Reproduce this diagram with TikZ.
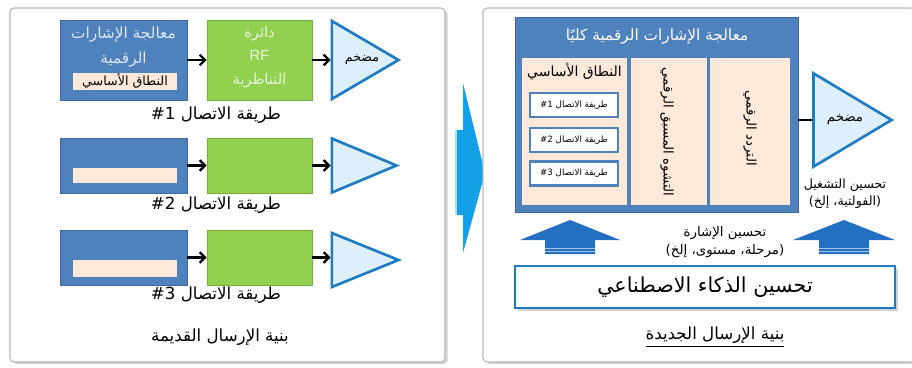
\documentclass[tikz,border=0pt]{standalone}
\usepackage{fontspec}
\setmainfont{Liberation Sans}
\newfontfamily\arabicfont[Script=Arabic]{DejaVu Sans}
\TeXXeTstate=1
\usetikzlibrary{arrows.meta,shapes.geometric,shadows}
\definecolor{dspblue}{HTML}{4F81BD}
\definecolor{dspedge}{HTML}{3E6A9E}
\definecolor{dsptext}{HTML}{DCE6F2}
\definecolor{rfgreen}{HTML}{92D050}
\definecolor{rfedge}{HTML}{78AE3C}
\definecolor{rftext}{HTML}{EAF4DC}
\definecolor{peach}{HTML}{FDE9D9}
\definecolor{ampfill}{HTML}{DCEFFA}
\definecolor{ampedge}{HTML}{1F7BC2}
\definecolor{midblue}{HTML}{14A0E6}
\definecolor{upblue}{HTML}{2370C2}
\newcommand{\artxt}[1]{{\arabicfont\beginR #1\endR}}

\begin{document}
\begin{tikzpicture}[x=0.75pt,y=-0.75pt,
  panel/.style={draw=black!28, line width=0.8pt, rounded corners=3pt, fill=white,
    drop shadow={shadow xshift=2pt, shadow yshift=-1.5pt, opacity=0.35}},
  dspbox/.style={draw=dspedge, fill=dspblue, line width=0.6pt, inner sep=0pt, minimum width=95.25pt},
  rfbox/.style={draw=rfedge, fill=rfgreen, line width=0.6pt, inner sep=0pt, minimum width=78.75pt},
  bandbar/.style={fill=peach, inner sep=0pt, minimum width=78pt},
  amp/.style={isosceles triangle, isosceles triangle stretches, draw=ampedge, fill=ampfill,
    line width=2pt, inner sep=0pt, anchor=apex},
  flow/.style={-{Straight Barb[length=4pt,width=8pt]}, line width=1.7pt},
  lbl/.style={font=\fontsize{12.5}{14}\selectfont, inner sep=1pt},
  column/.style={fill=peach, inner sep=0pt, minimum height=110.25pt},
  pathbox/.style={draw=dspblue, fill=white, line width=2pt, inner sep=0pt,
    minimum width=66pt, minimum height=18pt, font=\fontsize{6.5}{8}\selectfont,
    drop shadow={shadow xshift=1pt, shadow yshift=-1pt, opacity=0.3}},
  upblock/.style={fill=upblue},
]
%%%%% START %%%%%
\useasboundingbox (0,0) rectangle (912,367);

% old architecture
\draw[panel] (10,8) rectangle (445,362);

\node[dspbox, minimum height=60pt] (dsp1) at (123.5,60) {};
\node[text=dsptext, align=center, font=\fontsize{11.5}{18.5}\selectfont] (dsptxt1) at (123.5,47)
  {\artxt{معالجة الإشارات}\\\artxt{الرقمية}};
\node[bandbar, minimum height=12.75pt, font=\fontsize{9.5}{10}\selectfont] (band1) at (125,81.5)
  {\artxt{النطاق الأساسي}};
\node[rfbox, minimum height=60pt] (rf1) at (259.5,60) {};
\node[text=rftext, align=center, font=\fontsize{11}{17.5}\selectfont] (rftxt1) at (259.5,57)
  {\artxt{دائرة}\\RF\\\artxt{التناظرية}};
\node[amp, minimum height=50pt, minimum width=58.5pt] (amp1) at (402,60) {};
\node[font=\fontsize{9.5}{11}\selectfont, inner sep=0pt] (amptxt1) at (362,60) {\artxt{مضخم}};
\draw[flow] (dsp1) -- (rf1);
\draw[flow] (rf1) -- (amp1);
\node[lbl] (way1) at (216,115) {\artxt{طريقة الاتصال \beginL\#1\endL}};

\node[dspbox, minimum height=41.25pt] (dsp2) at (123.5,165.5) {};
\node[bandbar, minimum height=11.25pt] (band2) at (125,175.5) {};
\node[rfbox, minimum height=41.25pt] (rf2) at (259.5,165.5) {};
\node[amp, minimum height=48.5pt, minimum width=40.5pt] (amp2) at (400,165.5) {};
\draw[flow] (dsp2) -- (rf2);
\draw[flow] (rf2) -- (amp2);
\node[lbl] (way2) at (216,205) {\artxt{طريقة الاتصال \beginL\#2\endL}};

\node[dspbox, minimum height=41.25pt] (dsp3) at (123.5,257.5) {};
\node[bandbar, minimum height=12.75pt] (band3) at (125,268.5) {};
\node[rfbox, minimum height=41.25pt] (rf3) at (259.5,257.5) {};
\node[amp, minimum height=50pt, minimum width=40.5pt] (amp3) at (402,260) {};
\draw[flow] (dsp3) -- (rf3);
\draw[flow] (rf3.east) -- (amp3.lower side |- rf3.east);
\node[lbl] (way3) at (216,295) {\artxt{طريقة الاتصال \beginL\#3\endL}};

\node[lbl] (oldfoot) at (220,337) {\artxt{بنية الإرسال القديمة}};

% transition arrow
\fill[midblue] (457,130) -- (463,130) -- (463,83) -- (485,173) -- (463,253) -- (463,215) -- (457,215) -- cycle;
\draw[midblue!35, line width=0.8pt] (456,130) -- (456,215);

% new architecture
\draw[panel] (483,8) rectangle (915,362);

\node[dspbox, minimum width=212.25pt, minimum height=146.25pt] (dspall) at (656.5,114.5) {};
\node[text=white, font=\fontsize{11.5}{13}\selectfont] (dsphead) at (657,37) {\artxt{معالجة الإشارات الرقمية كليًا}};
\node[column, minimum width=78.75pt] (colbase) at (574.5,131.5) {};
\node[column, minimum width=57pt] (coldpd) at (669,131.5) {};
\node[column, minimum width=60pt] (colfreq) at (750,131.5) {};
\node[font=\fontsize{10.5}{12}\selectfont, inner sep=0pt] (basetitle) at (574.5,72) {\artxt{النطاق الأساسي}};
\node[pathbox] (path1) at (574,105) {\artxt{طريقة الاتصال \beginL\#1\endL}};
\node[pathbox] (path2) at (574,140) {\artxt{طريقة الاتصال \beginL\#2\endL}};
\node[pathbox] (path3) at (574,173.5) {\artxt{طريقة الاتصال \beginL\#3\endL}};
\node[rotate=-90, font=\fontsize{10}{12}\selectfont] (dpdtxt) at (667,132) {\artxt{التشوه المسبق الرقمي}};
\node[rotate=-90, font=\fontsize{10}{12}\selectfont] (freqtxt) at (750,128) {\artxt{التردد الرقمي}};

\node[amp, minimum height=58.5pt, minimum width=70pt] (amp4) at (895,120) {};
\node[font=\fontsize{10}{12}\selectfont, inner sep=0pt] (amptxt4) at (845,120) {\artxt{مضخم}};
\draw[line width=2pt] (dspall.east |- amp4.center) -- (amp4);
\node[align=center, font=\fontsize{9.5}{12.5}\selectfont, inner sep=0pt] (opttxt) at (845,194)
  {\artxt{تحسين التشغيل}\\\artxt{(الفولتية، إلخ)}};

\fill[upblock] (570,220) -- (620,240) -- (595,240) -- (595,254) -- (545,254) -- (545,240) -- (520,240) -- cycle;
\draw[white!60!upblue, line width=0.6pt] (545,248.5) -- (595,248.5) (545,251.5) -- (595,251.5);
\fill[upblock] (844,220) -- (895,240) -- (869,240) -- (869,254) -- (819,254) -- (819,240) -- (793,240) -- cycle;
\draw[white!60!upblue, line width=0.6pt] (819,248.5) -- (869,248.5) (819,251.5) -- (869,251.5);
\node[align=center, font=\fontsize{10}{14}\selectfont, inner sep=0pt] (sigtxt) at (725,242)
  {\artxt{تحسين الإشارة}\\\artxt{(مرحلة، مستوى، إلخ)}};

\node[draw=ampedge, fill=white, line width=2.2pt, minimum width=285pt, minimum height=31.5pt,
  font=\fontsize{15.5}{18}\selectfont, drop shadow={shadow xshift=2pt, shadow yshift=-2pt, opacity=0.35}]
  (aibox) at (705,287) {\artxt{تحسين الذكاء الاصطناعي}};

\node[lbl] (newfoot) at (715,337) {\underline{\artxt{بنية الإرسال الجديدة}}};
%%%%% END %%%%%
\end{tikzpicture}
\end{document}
